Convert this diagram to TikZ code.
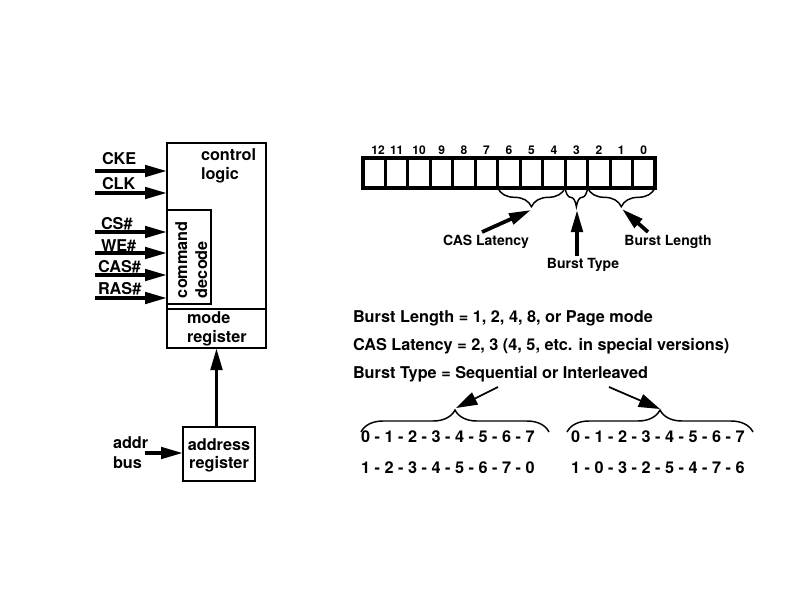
\documentclass[tikz,border=0pt]{standalone}
\usepackage{fontspec}
\setmainfont{TeX Gyre Heros}
\usetikzlibrary{arrows.meta,decorations.pathreplacing,fit,calc}
\begin{document}
\begin{tikzpicture}[x=0.75pt,y=-0.75pt,
  every node/.style={inner sep=0pt, outer sep=0pt},
  txt/.style={font=\fontsize{12.2}{14}\selectfont\bfseries},
  lab/.style={font=\fontsize{10.5}{12}\selectfont\bfseries},
  bitlab/.style={font=\fontsize{9}{10}\selectfont\bfseries},
  box/.style={draw, line width=1.1pt},
  cell/.style={draw, line width=2.3pt, minimum width=16.85pt, minimum height=22.5pt, anchor=north west},
  bigarrow/.style={line width=2.8pt, -{Triangle[length=16.5pt,width=8.5pt]}},
  thinarrow/.style={line width=1.3pt, -{Triangle[length=16pt,width=10pt]}},
  bracedec/.style={line width=1.1pt, decorate, decoration={brace, amplitude=#1}}
]
\useasboundingbox (0,0) rectangle (800,600);

% boxes
\node[box, fit={(167,143)(266,309)}] (ctrl) {};
\node[box, fit={(167,309)(266,348)}] (mreg) {};
\node[box, fit={(167,210)(211,304)}] (cmd) {};
\node[box, fit={(183,427)(255,481)}] (areg) {};

\node[txt, anchor=base west] (ctl1) at (201,160) {control};
\node[txt, anchor=base west] (ctl2) at (201,179) {logic};
\node[txt, anchor=base west, rotate=90] (cmd1) at (187,298) {command};
\node[txt, anchor=base west, rotate=90] (cmd2) at (207,298) {decode};
\node[txt, anchor=base west] (mr1) at (187,323) {mode};
\node[txt, anchor=base west] (mr2) at (187,342) {register};
\node[txt, anchor=base] (ar1) at (219,450) {address};
\node[txt, anchor=base] (ar2) at (219,468) {register};
\node[txt, anchor=base west] (ab1) at (113,448) {addr};
\node[txt, anchor=base west] (ab2) at (113,468) {bus};

% input signals
\node[txt, anchor=base west] (lcke) at (102,164) {CKE};
\node[txt, anchor=base west] (lclk) at (102,189) {CLK};
\node[txt, anchor=base west] (lcs) at (101,229) {CS\#};
\node[txt, anchor=base west] (lwe) at (101,251) {WE\#};
\node[txt, anchor=base west] (lcas) at (98,272) {CAS\#};
\node[txt, anchor=base west] (lras) at (98,294) {RAS\#};

\coordinate (scke) at (95,171);
\coordinate (sclk) at (95,193);
\coordinate (scs) at (95,232);
\coordinate (swe) at (95,253);
\coordinate (scas) at (95,275);
\coordinate (sras) at (95,298);
\draw[bigarrow] (scke) -- (scke -| ctrl.west);
\draw[bigarrow] (sclk) -- (sclk -| ctrl.west);
\draw[bigarrow] (scs) -- (scs -| cmd.west);
\draw[bigarrow] (swe) -- (swe -| cmd.west);
\draw[bigarrow] (scas) -- (scas -| cmd.west);
\draw[bigarrow] (sras) -- (sras -| cmd.west);

\coordinate (sab) at (145,453);
\draw[bigarrow] (sab) -- (sab -| areg.west);
\draw[bigarrow] (areg.north -| mreg.south) -- (mreg.south);

% register cells
\foreach \i in {0,...,12}{
  \pgfmathtruncatemacro{\bit}{12-\i}
  \node[cell] (b\bit) at ({363+22.46*\i},158) {};
}
\foreach \i in {1,...,12}{
  \pgfmathtruncatemacro{\bit}{12-\i}
  \node[bitlab, anchor=base] (bl\bit) at ({363+22.46*(\i+0.5)},154) {\bit};
}
\node[bitlab, anchor=base] (bl12) at (378,154) {12};

% braces
\draw[bracedec=14pt] (b4.south east) -- (b6.south west);
\draw[bracedec=14pt] (b3.south east) -- (b3.south west);
\draw[bracedec=14pt] (b0.south east) -- (b2.south west);

\coordinate (tcas) at (531,210);
\coordinate (tbt) at (577,210);
\coordinate (tbl) at (622,209);
\node[lab, anchor=base] (lcaslat) at (486,245) {CAS Latency};
\node[lab, anchor=base] (lbtype) at (583,268) {Burst Type};
\node[lab, anchor=base] (lblen) at (668,245) {Burst Length};
\draw[bigarrow] (482,232) -- (tcas);
\draw[bigarrow] (577,256) -- (tbt);
\draw[bigarrow] (648,232) -- (tbl);

% description lines
\node[txt, anchor=base west] (d1) at (353,322) {Burst Length = 1, 2, 4, 8, or Page mode};
\node[txt, anchor=base west] (d2) at (353,350) {CAS Latency = 2, 3 (4, 5, etc. in special versions)};
\node[txt, anchor=base west] (d3) at (353,378) {Burst Type = Sequential or Interleaved};

% lower braces
\draw[bracedec=16.5pt] (361,432) -- (549,432);
\draw[bracedec=16.5pt] (567,432) -- (753,432);
\coordinate (tseq) at (456,408);
\coordinate (tint) at (660,409);
\coordinate (sseq) at (498,387);
\coordinate (sint) at (609,387);
\draw[thinarrow] (sseq) -- (tseq);
\draw[thinarrow] (sint) -- (tint);

\node[txt, anchor=base west] (s1) at (361,442) {0 - 1 - 2 - 3 - 4 - 5 - 6 - 7};
\node[txt, anchor=base west] (s2) at (361,473) {1 - 2 - 3 - 4 - 5 - 6 - 7 - 0};
\node[txt, anchor=base west] (i1) at (571,442) {0 - 1 - 2 - 3 - 4 - 5 - 6 - 7};
\node[txt, anchor=base west] (i2) at (571,473) {1 - 0 - 3 - 2 - 5 - 4 - 7 - 6};
\end{tikzpicture}
\end{document}
